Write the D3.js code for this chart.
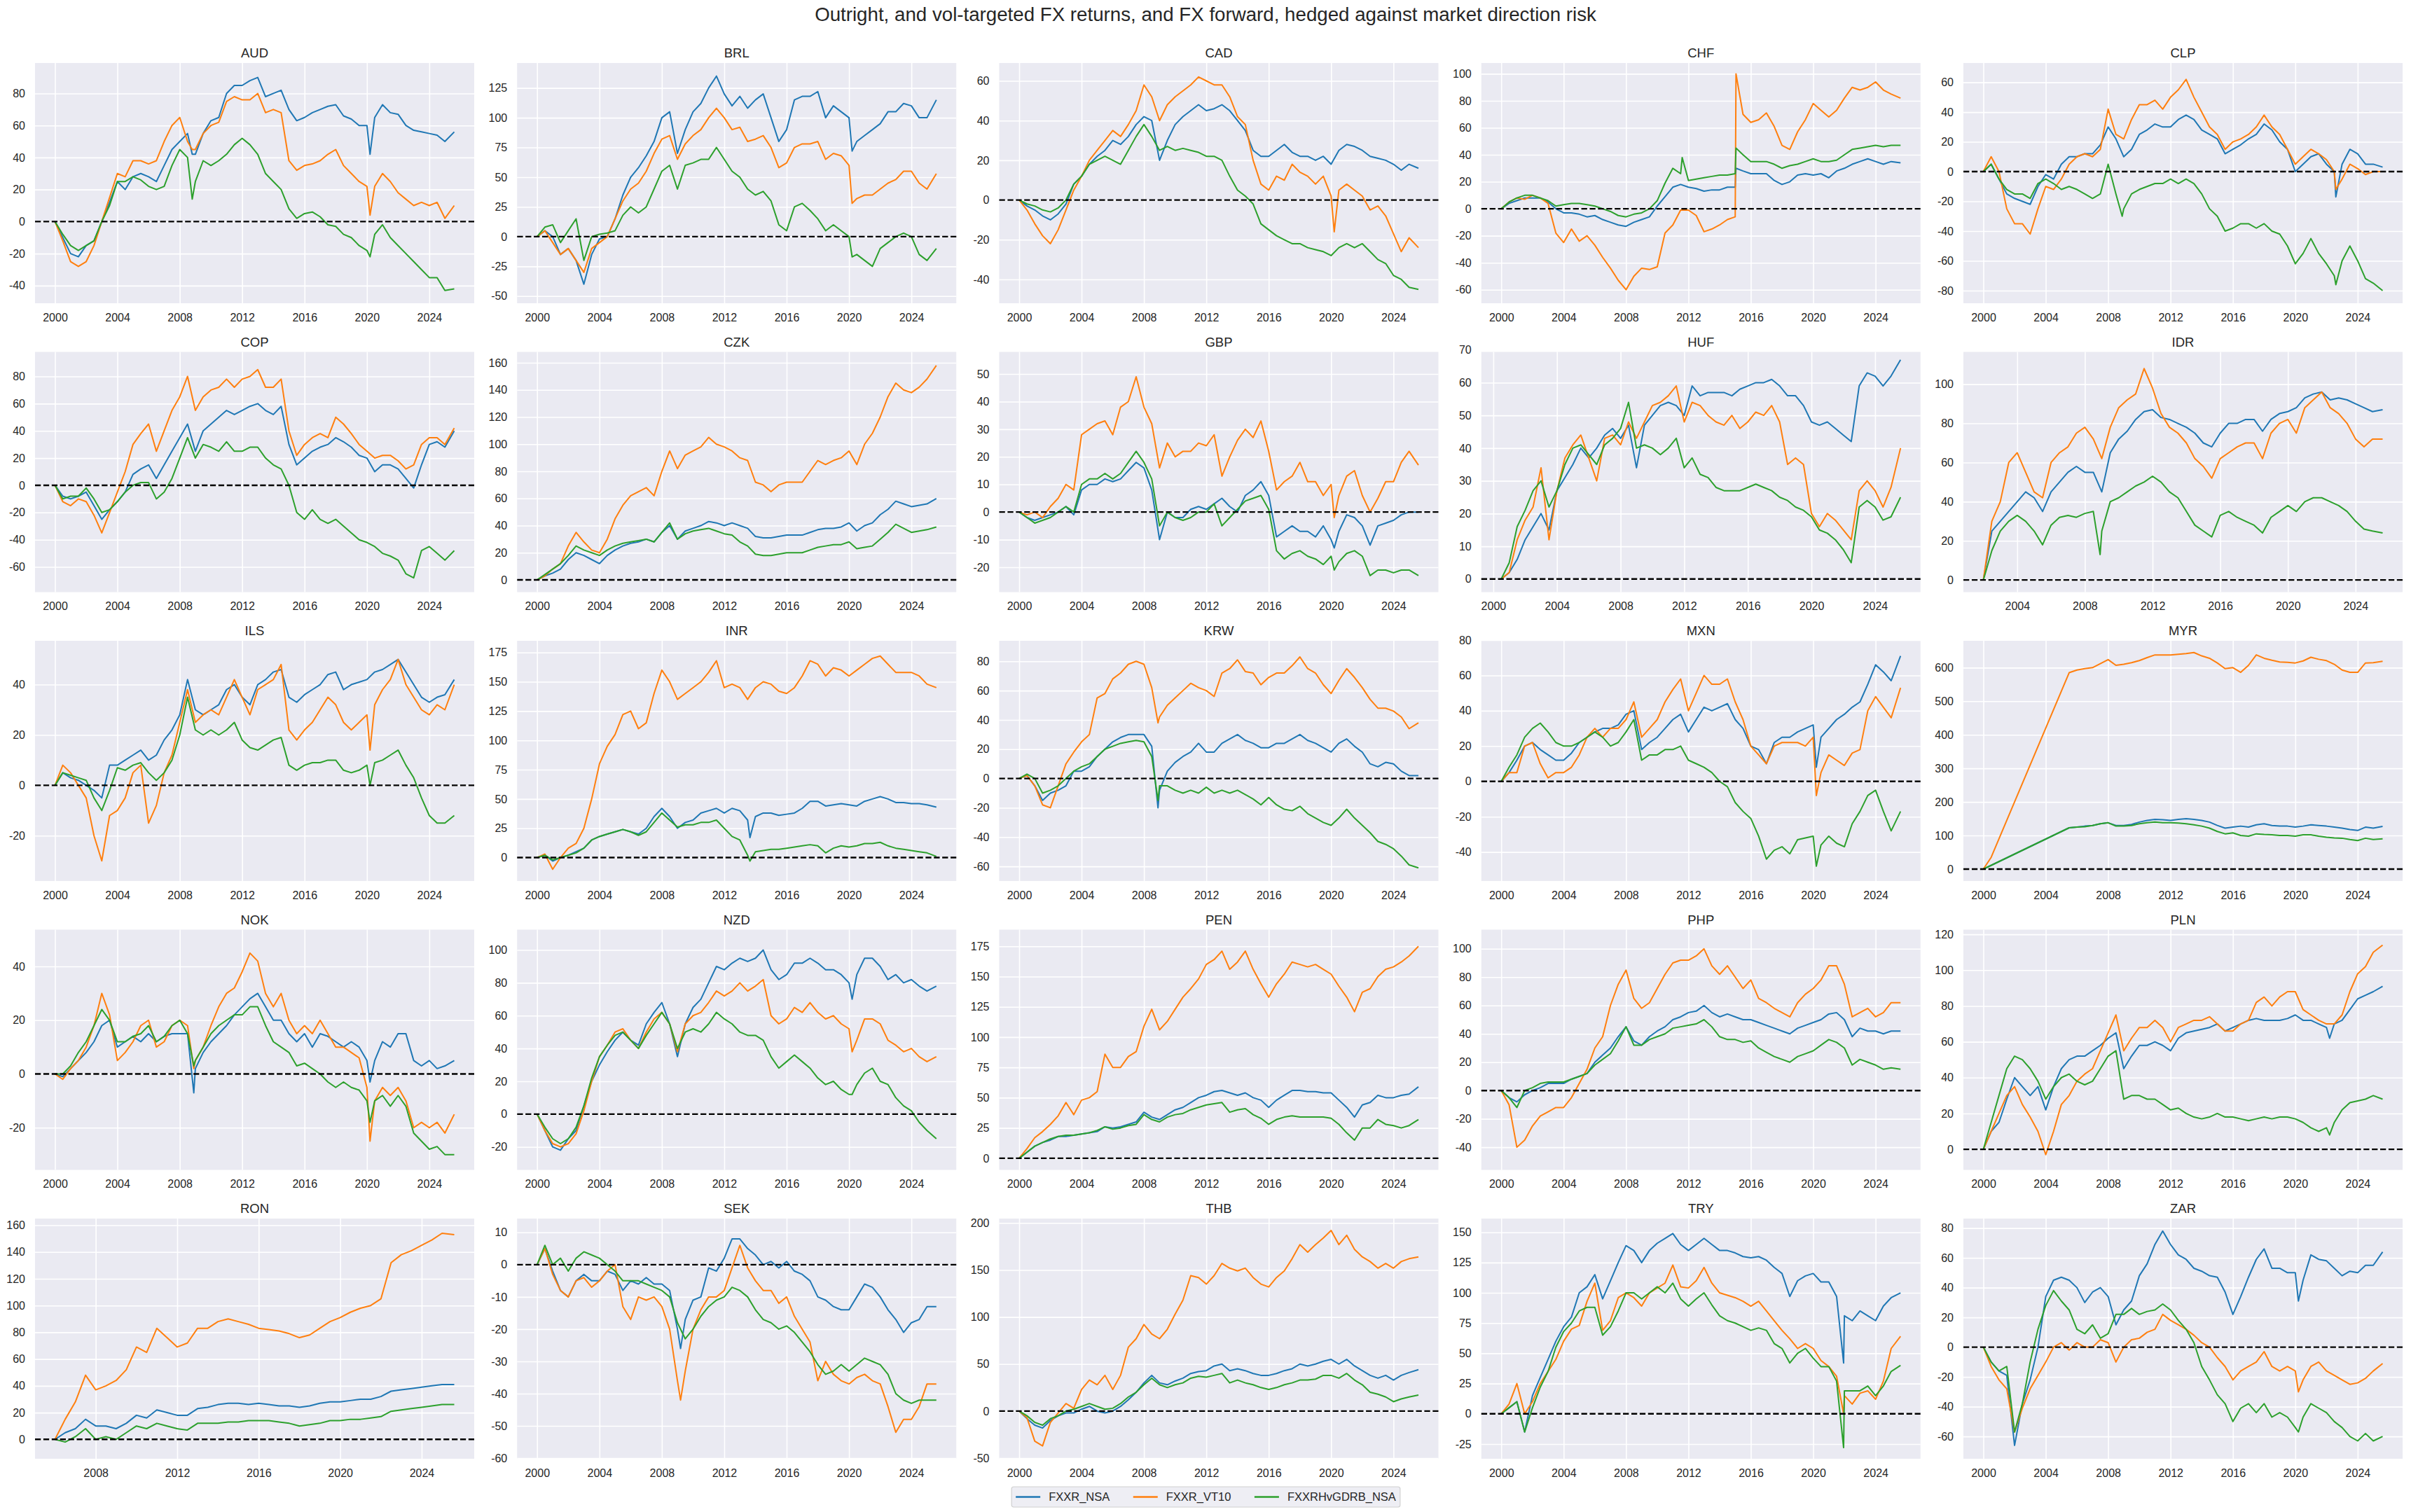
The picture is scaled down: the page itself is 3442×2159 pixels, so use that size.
<!DOCTYPE html>
<html><head><meta charset="utf-8">
<script src="https://cdn.jsdelivr.net/npm/d3@7"></script>
<style>body{margin:0;background:#fff}svg{display:block}</style>
</head><body>
<svg id="chart" width="3442" height="2159"></svg>
<script>
// ---------------- DATA ----------------
const chartTitle = "Outright, and vol-targeted FX returns, and FX forward, hedged against market direction risk";
const currencies = ["AUD","BRL","CAD","CHF","CLP","COP","CZK","GBP","HUF","IDR","ILS","INR","KRW","MXN","MYR","NOK","NZD","PEN","PHP","PLN","RON","SEK","THB","TRY","ZAR"];
const seriesNames = ["FXXR_NSA","FXXR_VT10","FXXRHvGDRB_NSA"];
const xTickValues = [2000,2004,2008,2012,2016,2020,2024];
const dates = [2000,2000.5,2001,2001.5,2002,2002.5,2003,2003.5,2004,2004.5,2005,2005.5,2006,2006.5,2007,2007.5,2008,2008.5,2009,2009.5,2010,2010.5,2011,2011.5,2012,2012.5,2013,2013.5,2014,2014.5,2015,2015.5,2016,2016.5,2017,2017.5,2018,2018.5,2019,2019.5,2020,2020.5,2021,2021.5,2022,2022.5,2023,2023.5,2024,2024.5,2025,2025.6];
const datesCHF = [2000,2000.5,2001,2001.5,2002,2002.5,2003,2003.5,2004,2004.5,2005,2005.5,2006,2006.5,2007,2007.5,2008,2008.5,2009,2009.5,2010,2010.5,2011,2011.5,2012,2012.5,2013,2013.5,2014,2014.5,2015,2015.05,2015.5,2016,2016.5,2017,2017.5,2018,2018.5,2019,2019.5,2020,2020.5,2021,2021.5,2022,2022.5,2023,2023.5,2024,2024.5,2025,2025.6];

const AUD_NSA=[0,-10,-20,-22,-15,-12,0,12,25,20, 28,30,28,25,35,45,50,55,42,55, 63,65,80,85,85,88,90,78,80,82, 70,63,65,68,70,72,73,66,64,60, 60,65,73,68,67,60,57,56,55,54, 50,56];
const AUD_VT10=[0,-12,-25,-28,-25,-15,0,15,30,28, 38,38,36,38,50,60,65,50,45,55, 60,62,75,78,76,76,80,68,70,68, 38,32,35,36,38,42,45,35,30,25, 22,22,30,25,18,14,10,12,10,12, 2,10];
const AUD_HV=[0,-8,-15,-18,-15,-12,0,10,25,25, 28,26,22,20,22,35,45,40,25,38, 35,38,42,48,52,48,42,30,25,20, 8,2,5,6,3,-2,-3,-8,-10,-15, -18,-8,-2,-10,-15,-20,-25,-30,-35,-35, -43,-42];

const BRL_NSA=[0,5,0,-15,-10,-20,-40,-15,-2,0, 15,35,50,58,68,80,100,105,70,90, 105,112,125,135,120,110,118,108,115,120, 100,80,90,115,118,118,122,100,110,105, 100,80,85,90,95,105,105,112,110,100, 100,115];
const BRL_VT10=[0,5,-5,-15,-10,-20,-30,-10,-5,0, 15,30,40,45,55,70,82,85,65,78, 85,90,100,108,100,90,92,80,82,85, 75,58,62,75,78,78,80,65,70,68, 60,32,35,35,40,45,48,55,55,45, 40,53];
const BRL_HV=[0,8,10,-5,5,15,-20,0,2,3, 5,18,25,20,25,40,55,60,40,60, 62,65,65,75,65,55,50,40,35,38, 30,10,5,25,28,22,15,5,10,5, 0,-15,-20,-25,-10,-5,0,3,0,-15, -20,-10];

const CAD_NSA=[0,-3,-5,-8,-10,-7,-2,8,12,18, 22,25,30,28,32,38,42,40,20,30, 38,42,45,48,45,46,48,45,40,35, 25,22,22,25,28,24,22,22,20,22, 18,25,28,27,25,22,21,20,18,15, 18,16];
const CAD_VT10=[0,-5,-12,-18,-22,-15,-5,5,12,20, 25,30,35,32,38,45,58,52,40,48, 52,55,58,62,60,58,58,52,42,38, 20,8,5,12,10,18,14,12,8,12, 2,5,8,5,2,-5,-3,-8,-17,-26, -19,-24];
const CAD_HV=[0,-2,-3,-5,-6,-4,0,8,12,18, 20,22,20,18,25,32,38,32,25,27, 25,26,25,24,22,22,20,12,5,2, -2,-12,-15,-18,-20,-22,-22,-24,-25,-26, -28,-24,-22,-24,-22,-26,-30,-32,-38,-40, -44,-45];

const CHF_NSA=[0,4,6,8,8,8,5,0,-3,-3, -4,-6,-5,-8,-10,-12,-13,-10,-8,-6, 2,9,16,18,16,15,13,14,14,16, 16,30,28,26,26,26,21,18,20,25,26, 25,26,23,28,30,33,35,37,35,33, 35,34];
const CHF_VT10=[0,5,8,7,10,8,4,-18,-25,-15, -24,-20,-27,-36,-44,-53,-60,-50,-44,-45, -43,-18,-12,-1,-1,-5,-17,-15,-12,-8, -6,100,70,64,66,71,61,47,44,57,66, 78,73,68,73,82,90,88,90,94,88, 85,82];
const CHF_HV=[0,5,8,10,10,8,6,2,3,4, 4,3,2,0,-2,-5,-6,-4,-3,0, 6,19,30,26,21,22,23,24,25,25, 26,45,40,35,35,35,33,30,32,33,35, 37,35,35,36,40,44,45,46,47,46, 47,47];

const CLP_NSA=[0,5,-5,-15,-18,-20,-22,-10,-2,-5, 5,10,10,12,12,18,30,22,10,15, 25,28,32,30,30,35,38,35,28,25, 22,12,15,18,22,25,32,28,20,15, 0,5,10,12,5,0,5,15,12,5, 5,3];
const CLP_VT10=[0,10,0,-25,-35,-35,-42,-25,-10,-12, -5,5,10,12,10,15,42,25,22,35, 45,45,48,42,50,55,62,50,40,30, 25,15,20,22,25,30,38,30,25,15, 5,10,15,12,8,0,-5,5,2,-2, 0,0];
const CLP_HV=[0,5,-5,-12,-15,-15,-18,-8,-5,-8, -12,-10,-12,-15,-18,-15,5,-15,-25,-15, -12,-10,-8,-8,-5,-8,-5,-8,-15,-25, -30,-40,-38,-35,-35,-38,-35,-40,-42,-50, -62,-55,-45,-55,-62,-70,-60,-50,-60,-72, -75,-80];

const COP_NSA=[0,-8,-10,-8,-5,-15,-25,-18,-12,-5, 8,12,15,5,15,25,35,45,25,40, 45,50,55,52,55,58,60,55,52,58, 30,15,20,25,28,30,35,32,28,22, 20,10,15,15,12,5,-2,15,30,32, 28,40];
const COP_VT10=[0,-12,-15,-10,-12,-22,-35,-20,-5,10, 30,38,45,25,40,55,65,80,55,65, 70,72,78,72,78,80,85,72,72,78, 40,22,30,35,38,35,50,45,38,30, 25,20,22,22,18,12,15,30,35,35, 30,42];
const COP_HV=[0,-10,-8,-8,-2,-10,-20,-18,-12,-5, 0,2,2,-10,-5,5,20,35,20,30, 28,25,32,25,25,28,28,20,15,12, 0,-20,-25,-18,-25,-28,-25,-30,-35,-40, -42,-45,-50,-52,-55,-65,-68,-48,-45,-50, -55,-48];

const CZK_NSA=[0,3,5,8,15,20,18,15,12,18, 22,25,27,28,30,28,35,40,30,36, 38,40,43,42,40,42,40,38,32,31, 31,32,33,33,33,35,37,38,38,39, 42,36,40,42,48,52,58,56,54,55, 56,60];
const CZK_VT10=[0,3,8,12,25,35,28,22,20,30, 45,55,62,65,68,62,80,95,82,92, 95,98,105,100,98,95,90,88,72,70, 65,70,72,72,72,80,88,85,88,90, 95,85,100,108,120,135,145,140,138,142, 148,158];
const CZK_HV=[0,4,8,12,18,25,22,20,18,22, 25,27,28,29,30,28,35,42,30,34, 36,37,38,36,34,33,28,25,19,18, 18,19,20,20,20,22,24,25,26,26, 28,23,24,25,30,35,41,38,35,36, 37,39];

const GBP_NSA=[0,-2,-3,-2,-1,0,2,-1,8,10, 10,12,11,12,15,18,16,8,-10,0, -2,-2,1,2,1,3,5,2,0,6, 8,11,6,-9,-7,-5,-7,-7,-9,-5, -10,-7,-1,-2,-5,-12,-5,-4,-3,-1, 0,0];
const GBP_VT10=[0,-1,0,-2,2,5,10,8,28,30, 32,33,28,38,40,49,38,32,16,25, 20,22,22,25,24,28,13,20,26,30, 27,33,22,8,11,13,18,11,11,6, 10,6,13,15,6,0,5,11,11,18, 22,17];
const GBP_HV=[0,-2,-4,-3,-2,0,2,0,10,12, 12,14,12,14,18,22,18,12,-5,0, -2,-3,-2,0,0,3,-5,-2,1,4, 5,6,1,-14,-17,-15,-14,-16,-17,-19, -16,-18,-15,-14,-16,-23,-21,-21,-22,-21, -21,-23];

const HUF_NSA=[null,0,2,6,12,16,20,15,27,31, 35,40,37,40,44,46,43,47,34,47, 50,53,54,53,50,59,56,57,57,57, 56,58,59,60,60,61,59,56,56,53, 48,47,48,46,44,42,59,63,62,59, 62,67];
const HUF_VT10=[null,0,2,12,18,22,34,12,27,37, 41,44,37,30,43,44,41,48,43,48, 53,54,56,59,48,54,53,50,48,47, 50,46,48,51,50,53,48,35,37,35, 20,16,20,18,15,12,27,30,27,22, 28,40];
const HUF_HV=[null,0,5,16,21,27,30,22,27,35, 40,41,38,35,41,43,46,54,40,41, 40,38,40,43,34,37,32,31,28,27, 27,27,28,29,28,27,25,24,22,21, 19,15,14,12,9,5,22,24,22,18, 19,25];

const IDR_NSA=[null,null,null,null,0,25,30,35,40,45, 42,35,45,50,55,58,55,55,45,65, 72,76,82,86,87,83,82,80,78,75, 70,68,75,80,80,82,82,76,82,85, 86,88,93,95,96,92,93,92,90,88, 86,87];
const IDR_VT10=[null,null,null,null,0,30,40,60,65,55, 45,42,60,65,68,75,78,72,62,78, 88,92,95,108,98,85,78,75,70,62, 58,52,62,65,68,70,70,62,75,80, 82,75,88,92,96,88,85,80,72,68, 72,72];
const IDR_HV=[null,null,null,null,0,15,25,30,33,30, 25,18,28,32,33,32,34,35,25,40, 42,45,48,50,53,50,45,42,35,28, 25,22,33,35,32,30,28,24,32,35, 38,35,40,42,42,40,38,35,30,26, 25,24];

const ILS_NSA=[0,5,3,2,0,-2,-5,8,8,10, 12,14,10,12,18,22,28,42,30,28, 30,32,38,40,35,32,40,42,45,46, 35,33,36,38,40,44,45,38,40,41, 42,45,46,48,50,45,40,35,33,35, 36,42];
const ILS_VT10=[0,8,5,0,-5,-20,-30,-12,-10,-5, 5,8,-15,-8,5,12,25,38,25,28, 30,28,35,42,35,28,38,40,42,48, 22,18,22,25,30,35,32,25,22,25, 28,32,38,42,50,40,35,30,28,32, 30,40];
const ILS_HV=[0,5,4,3,2,-5,-10,-2,7,6, 8,9,5,2,5,10,20,35,22,20, 22,20,22,25,18,15,14,16,18,19, 8,6,8,9,9,10,10,6,5,6, 8,9,10,12,14,8,3,-5,-12,-15, -15,-12];

const INR_NSA=[0,2,-3,0,2,5,8,15,18,20, 22,24,22,20,25,35,42,35,25,30, 32,38,40,42,38,42,40,32,35,38, 38,36,37,38,42,48,48,44,45,46, 45,44,48,50,52,50,47,47,46,46, 45,43];
const INR_VT10=[0,3,-10,0,8,12,25,50,80,95, 105,122,125,110,115,140,160,150,135,140, 145,150,158,168,145,148,145,135,145,150, 148,142,140,145,155,168,165,155,162,160, 155,160,165,170,172,165,158,158,158,155, 148,145];
const INR_HV=[0,2,-2,0,2,4,8,15,18,20, 22,24,22,19,22,30,38,32,26,28, 28,30,30,32,25,18,15,2,5,6, 7,7,8,9,10,11,10,4,8,10, 9,10,12,12,13,10,8,7,6,5, 4,1];

const KRW_NSA=[0,2,-5,-15,-10,-8,-5,5,5,8, 15,20,25,28,30,30,30,22,-8,5, 11,15,18,24,18,18,24,27,30,26, 24,21,21,24,24,27,30,26,24,21, 18,24,27,22,18,10,8,11,10,5, 2,2];
const KRW_VT10=[0,2,-5,-18,-20,-5,10,18,25,30, 55,58,68,72,78,80,78,62,42,50, 55,60,65,62,60,56,72,75,81,73, 72,64,69,72,72,77,83,75,72,64, 58,67,75,69,62,54,48,48,46,42, 34,38];
const KRW_HV=[0,3,0,-10,-8,-5,0,5,8,10, 15,20,22,24,25,26,25,15,-5,-5, -8,-10,-8,-10,-6,-10,-8,-10,-8,-11, -14,-18,-13,-18,-21,-22,-19,-24,-27,-30, -32,-27,-21,-27,-32,-37,-43,-45,-48,-53, -59,-61];

const MXN_NSA=[0,5,12,20,22,18,15,12,12,16, 22,25,28,30,30,32,38,40,18,22, 25,30,35,38,28,35,42,40,42,44, 35,30,20,18,10,22,25,25,28,30, 32,25,30,35,38,42,45,55,66,62, 57,71];
const MXN_VT10=[0,5,5,20,22,10,2,5,5,8, 15,25,30,25,30,30,35,45,25,30, 35,45,52,58,40,50,60,55,55,58, 45,35,20,15,10,20,22,22,22,20, 25,5,15,12,9,16,18,40,48,42, 36,53];
const MXN_HV=[0,8,15,25,30,33,28,22,20,20, 22,25,28,25,20,22,28,35,12,15, 15,18,18,20,12,10,8,5,0,-3, -12,-17,-21,-31,-44,-39,-37,-41,-33,-32, -31,-36,-31,-35,-37,-24,-17,-8,-5,-17, -28,-17];

const MYR_NSA=[0,null,null,null,null,null,null,null,null,null, null,123,125,128,130,135,138,130,130,133, 140,145,148,147,145,148,150,148,145,140, 130,122,125,128,125,132,135,130,128,128, 125,128,132,130,128,125,122,118,115,125, 122,127];
const MYR_VT10=[0,35,null,null,null,null,null,null,null,null, null,585,593,597,600,612,624,607,610,615, 621,630,638,638,638,640,642,645,635,628, 614,597,600,586,607,638,628,622,617,616, 614,620,631,625,621,610,593,586,586,614, 615,619];
const MYR_HV=[0,null,null,null,null,null,null,null,null,null, null,123,125,126,130,135,138,128,128,130, 135,138,140,138,138,137,135,132,128,122, 112,105,108,100,98,105,103,102,100,100, 98,102,102,98,95,93,92,88,85,92, 88,90];

const NOK_NSA=[0,-1,2,5,8,12,18,20,10,12, 14,12,15,12,14,15,15,15,2,8, 12,15,18,22,25,28,30,25,20,20, 15,12,15,10,15,14,12,10,12,10, 5,5,12,10,15,15,5,3,5,2, 3,5];
const NOK_VT10=[0,-2,2,5,10,18,30,22,5,8, 12,18,20,10,12,18,20,18,5,10, 18,25,30,32,38,45,42,30,25,30, 20,15,18,15,20,15,10,10,8,6, -5,-10,-5,-8,-5,-10,-20,-18,-20,-18, -22,-15];
const NOK_HV=[0,0,3,8,12,18,24,20,12,12, 14,15,18,12,14,18,20,15,5,10, 15,18,20,22,22,25,25,18,12,10, 8,3,4,2,0,-3,-5,-3,-5,-6, -10,-10,-8,-12,-8,-12,-22,-25,-28,-27, -30,-30];

const NZD_NSA=[0,-10,-20,-22,-15,-10,5,20,30,38, 45,50,45,42,55,62,68,55,35,55, 65,70,80,90,88,92,95,93,95,100, 88,82,85,92,92,95,92,88,88,85, 80,85,95,95,90,82,85,80,82,78, 75,78];
const NZD_VT10=[0,-10,-18,-20,-18,-12,2,20,35,42, 50,52,45,40,50,58,62,55,38,55, 60,62,68,75,72,75,80,75,78,82, 60,55,58,65,62,68,62,58,60,55, 52,45,58,58,55,45,42,38,40,35, 32,35];
const NZD_HV=[0,-8,-15,-18,-15,-8,5,22,35,42, 48,50,45,40,48,55,62,55,40,50, 52,50,55,62,58,55,50,48,48,45, 35,28,32,36,32,28,22,18,20,15, 12,18,25,28,20,18,10,5,2,-5, -10,-15];

const PEN_NSA=[0,5,10,13,15,18,18,19,20,21, 22,26,25,26,28,30,38,34,32,36, 40,42,46,50,52,55,56,54,52,54, 50,48,42,48,52,56,56,55,55,54, 54,48,42,34,44,46,52,50,50,52, 53,59];
const PEN_VT10=[0,8,17,22,28,35,46,36,48,50, 55,86,75,75,84,88,109,123,106,113, 123,133,140,148,160,164,171,156,162,171, 156,144,133,144,152,162,160,158,160,156, 152,142,133,121,137,140,150,156,158,162, 167,175];
const PEN_HV=[0,5,10,13,16,18,19,19,20,21, 23,26,24,25,27,28,36,32,30,34, 36,37,40,42,44,45,46,38,40,41, 36,33,28,32,34,35,34,34,34,34, 33,28,21,15,25,25,32,28,27,25, 27,32];

const PHP_NSA=[0,-5,-8,-3,0,2,5,5,5,8, 10,12,20,25,30,38,45,35,32,38, 42,45,50,52,55,56,60,55,52,54, 52,50,50,48,46,44,42,40,44,46, 48,50,54,55,50,38,44,42,42,40, 42,42];
const PHP_VT10=[0,-10,-40,-35,-25,-18,-15,-12,-12,-5, 5,15,30,38,60,75,85,65,58,62, 72,82,90,92,92,95,100,88,82,88, 80,72,78,65,62,58,55,52,62,68, 72,78,88,88,75,52,55,58,52,55, 62,62];
const PHP_HV=[0,-5,-12,0,2,5,6,6,6,8, 10,12,18,22,26,35,45,32,32,36, 38,40,44,45,46,47,50,45,38,36, 36,34,35,30,27,24,22,20,24,26, 28,32,36,34,30,18,22,20,18,15, 16,15];

const PLN_NSA=[0,10,15,28,40,35,30,35,22,35, 45,50,52,52,55,58,62,65,45,52, 58,58,60,58,55,62,65,66,67,68, 70,66,68,70,72,73,72,72,72,73, 75,72,72,70,68,70,72,78,84,86, 88,91];
const PLN_VT10=[0,10,20,30,35,25,18,10,-3,10, 25,30,38,42,45,55,65,75,55,62, 68,68,72,68,60,68,70,72,72,74, 70,66,66,70,72,82,85,80,85,88, 88,78,75,72,70,70,75,88,98,102, 110,114];
const PLN_HV=[0,15,30,45,52,50,45,38,28,35, 40,42,38,36,38,45,52,55,28,30, 30,28,28,25,22,23,20,18,17,18, 20,18,18,17,16,17,18,17,18,18, 17,15,12,10,12,15,22,26,27,28, 30,28];

const RON_NSA=[null,null,null,null,null,null,null,null,null,null, null,null,0,5,8,15,10,10,8,12, 18,16,22,20,18,18,23,24,26,27, 27,26,27,26,25,25,24,25,27,28, 28,29,30,30,32,36,37,38,39,40, 41,41];
const RON_VT10=[null,null,null,null,null,null,null,null,null,null, null,null,0,15,28,48,37,40,44,52, 69,65,83,76,69,72,83,83,88,90, 88,86,83,82,81,79,76,78,83,88, 91,95,98,100,105,132,138,141,145,149, 154,153];
const RON_HV=[null,null,null,null,null,null,null,null,null,null, null,null,0,-2,2,8,0,2,0,5, 10,8,12,10,8,7,12,12,12,13, 13,14,14,14,13,12,10,11,12,14, 14,15,15,16,17,21,22,23,24,25, 26,26];

const SEK_NSA=[0,5,-2,-8,-10,-5,-3,-5,-5,-2, -3,-8,-5,-6,-4,-6,-6,-8,-20,-17, -11,-10,-1,-2,2,8,8,5,3,0, 1,-1,1,-2,-3,-5,-10,-11,-13,-14, -14,-10,-6,-7,-10,-14,-17,-21,-18,-17, -13,-13];
const SEK_VT10=[0,5,-3,-8,-10,-5,-4,-7,-5,-2, 0,-13,-17,-10,-11,-10,-13,-20,-36,-33, -20,-14,-10,-10,-8,-1,6,-1,-5,-8, -8,-12,-10,-16,-20,-24,-36,-30,-34,-36, -37,-35,-34,-36,-37,-44,-52,-48,-48,-44, -37,-37];
const SEK_HV=[0,6,0,2,-2,2,4,3,2,0, -2,-5,-5,-5,-6,-7,-8,-10,-18,-23, -20,-16,-13,-11,-10,-7,-8,-10,-14,-17, -18,-20,-19,-21,-24,-27,-31,-34,-33,-31, -33,-31,-29,-30,-31,-34,-40,-42,-43,-42, -42,-42];

const THB_NSA=[0,-8,-15,-18,-10,-5,-2,-2,2,5, 0,-2,0,5,12,20,30,38,30,28, 32,35,40,42,43,48,50,43,45,43, 40,38,38,40,43,45,50,48,50,53, 55,50,55,48,43,38,35,38,33,38, 41,44];
const THB_VT10=[0,-7,-32,-37,-12,-2,8,3,23,33, 28,38,23,38,68,77,92,82,77,87, 103,118,144,142,135,144,157,152,149,152, 142,135,132,142,149,162,177,169,177,184, 192,177,187,172,164,159,152,157,152,159, 162,164];
const THB_HV=[0,-5,-12,-15,-8,-5,0,2,5,8, 5,2,3,8,15,20,28,35,28,25, 28,30,35,37,36,38,40,30,33,30, 28,25,23,25,28,30,33,33,34,38, 38,35,40,33,28,20,18,15,10,13, 15,17];

const TRY_NSA=[0,5,10,-15,15,30,45,60,72,80, 100,105,115,95,110,125,139,135,125,135, 141,145,149,140,135,140,145,140,135,135, 133,130,129,130,127,121,116,97,110,114, 116,109,109,97,81,77,85,81,77,89, 96,100];
const TRY_VT10=[0,8,25,0,10,25,35,45,60,70, 73,93,108,69,77,96,100,96,89,100, 104,108,123,105,104,110,121,108,100,98, 96,93,89,93,85,77,69,62,54,58, 54,44,39,31,15,8,17,19,12,27, 54,64];
const TRY_HV=[0,5,10,-15,5,22,35,55,68,75, 85,88,88,65,72,85,100,100,95,100, 105,100,108,95,89,95,100,90,81,77, 75,72,69,71,69,58,54,42,50,54, 46,39,39,27,19,19,19,23,15,23, 35,40];

const ZAR_NSA=[0,-10,-16,-19,-66,-38,-22,0,34,45, 47,45,40,30,37,40,34,15,25,31, 48,56,69,78,69,62,59,53,51,48, 47,37,22,34,47,59,66,53,53,50, 50,45,62,59,58,53,48,51,50,55, 55,64];
const ZAR_VT10=[0,-13,-22,-28,-57,-41,-28,-19,-10,0, 3,-2,3,0,0,5,3,-10,0,5, 6,10,12,22,18,15,12,8,3,0, -7,-13,-22,-16,-13,-10,-3,-13,-16,-13, -16,-22,-13,-10,-16,-19,-22,-25,-24,-21, -16,-11];
const ZAR_HV=[0,-10,-16,-13,-57,-38,-10,12,28,38, 31,25,12,9,15,6,9,22,22,26, 22,24,25,29,25,18,12,3,-13,-22, -32,-38,-50,-41,-38,-44,-38,-47,-44,-47, -54,-47,-38,-41,-44,-50,-54,-60,-63,-58, -63,-60];

// short-lived spikes (currency, date, NSA, VT10, HvGDRB)
const spikeCcy  = ["AUD","AUD","BRL","CAD","GBP","ILS","MXN","NOK","NOK","NZD","ZAR","TRY","CLP","CLP","IDR","KRW","CHF","PLN","SEK","INR"];
const spikeDate = [2008.8,2020.2,2020.2,2020.2,2020.2,2020.2,2020.2,2020.2,2008.9,2020.2,2020.2,2021.95,2008.9,2022.6,2008.9,2008.9,2011.6,2022.2,2009.2,2013.65];
const spikeNSA  = [42,42,72,null,-13,null,8,-3,-7,70,31,42,null,-17,null,-20,null,62,-26,17];
const spikeVT10 = [45,4,28,-16,-2,14,-8,-25,2,38,-30,0,null,-12,null,38,null,null,-42,null];
const spikeHV   = [14,-22,-17,null,-21,0,-48,-18,3,12,-57,-28,-30,-76,13,-15,38,8,null,-3];

const yDomains = [[-51,99],[-56,146],[-52,69],[-70,108],[-88.5,73],[-78.5,98],[-9,168],[-29,58],[-4,69.4],[-6.2,116.5],[-38,57.4],[-20,185],[-70,94],[-56.4,79.6],[-35.5,680],[-35.7,53.7],[-34,112.4],[-9.6,188.7],[-56,113.5],[-11.5,122.6],[-14.5,165],[-60.2,14.3],[-50.7,204.7],[-37.2,161.4],[-75,86.4]];
const yTicks = [[-40,-20,0,20,40,60,80],[-50,-25,0,25,50,75,100,125],[-40,-20,0,20,40,60],[-60,-40,-20,0,20,40,60,80,100],[-80,-60,-40,-20,0,20,40,60],[-60,-40,-20,0,20,40,60,80],[0,20,40,60,80,100,120,140,160],[-20,-10,0,10,20,30,40,50],[0,10,20,30,40,50,60,70],[0,20,40,60,80,100],[-20,0,20,40],[0,25,50,75,100,125,150,175],[-60,-40,-20,0,20,40,60,80],[-40,-20,0,20,40,60,80],[0,100,200,300,400,500,600],[-20,0,20,40],[-20,0,20,40,60,80,100],[0,25,50,75,100,125,150,175],[-40,-20,0,20,40,60,80,100],[0,20,40,60,80,100,120],[0,20,40,60,80,100,120,140,160],[-60,-50,-40,-30,-20,-10,0,10],[-50,0,50,100,150,200],[-25,0,25,50,75,100,125,150],[-60,-40,-20,0,20,40,60,80]];

const seriesTable = {
  AUD:[AUD_NSA,AUD_VT10,AUD_HV], BRL:[BRL_NSA,BRL_VT10,BRL_HV], CAD:[CAD_NSA,CAD_VT10,CAD_HV],
  CHF:[CHF_NSA,CHF_VT10,CHF_HV], CLP:[CLP_NSA,CLP_VT10,CLP_HV], COP:[COP_NSA,COP_VT10,COP_HV],
  CZK:[CZK_NSA,CZK_VT10,CZK_HV], GBP:[GBP_NSA,GBP_VT10,GBP_HV], HUF:[HUF_NSA,HUF_VT10,HUF_HV],
  IDR:[IDR_NSA,IDR_VT10,IDR_HV], ILS:[ILS_NSA,ILS_VT10,ILS_HV], INR:[INR_NSA,INR_VT10,INR_HV],
  KRW:[KRW_NSA,KRW_VT10,KRW_HV], MXN:[MXN_NSA,MXN_VT10,MXN_HV], MYR:[MYR_NSA,MYR_VT10,MYR_HV],
  NOK:[NOK_NSA,NOK_VT10,NOK_HV], NZD:[NZD_NSA,NZD_VT10,NZD_HV], PEN:[PEN_NSA,PEN_VT10,PEN_HV],
  PHP:[PHP_NSA,PHP_VT10,PHP_HV], PLN:[PLN_NSA,PLN_VT10,PLN_HV], RON:[RON_NSA,RON_VT10,RON_HV],
  SEK:[SEK_NSA,SEK_VT10,SEK_HV], THB:[THB_NSA,THB_VT10,THB_HV], TRY:[TRY_NSA,TRY_VT10,TRY_HV],
  ZAR:[ZAR_NSA,ZAR_VT10,ZAR_HV]
};
const spikeCols = [spikeNSA, spikeVT10, spikeHV];

// ---------------- DRAWING ----------------
const W = 3442, H = 2159;
const FONT = "'Liberation Sans', Arial, sans-serif";
const TEXT = "#262626";
const colors = ["#1f77b4","#ff7f0e","#2ca02c"];
const plotW = 627, plotH = 343;
const colLeft = c => 50 + c * 688.25;
const rowTop = r => 90 + r * 412.5;

const svg = d3.select("#chart");
svg.append("rect").attr("width", W).attr("height", H).attr("fill", "#fff");

svg.append("text").attr("x", 1721).attr("y", 30).attr("text-anchor", "middle")
  .attr("font-family", FONT).attr("font-size", 27.7).attr("fill", TEXT).text(chartTitle);

currencies.forEach((ccy, i) => {
  const col = i % 5, row = Math.floor(i / 5);
  const g = svg.append("g").attr("transform", `translate(${colLeft(col)},${rowTop(row)})`);
  const ds = ccy === "CHF" ? datesCHF : dates;
  const ser = seriesTable[ccy];
  const pts = ser.map((s, si) => {
    const p = ds.map((d, k) => [d, s[k]]).filter(q => q[1] !== null && q[1] !== undefined);
    spikeCcy.forEach((c, k) => {
      if (c === ccy && spikeCols[si][k] !== null) p.push([spikeDate[k], spikeCols[si][k]]);
    });
    return p.sort((a, b) => a[0] - b[0]);
  });
  const allX = pts.flat().map(p => p[0]);
  const xmin = d3.min(allX), xmax = d3.max(allX), pad = (xmax - xmin) * 0.05;
  const x = d3.scaleLinear().domain([xmin - pad, xmax + pad]).range([0, plotW]);
  const y = d3.scaleLinear().domain(yDomains[i]).range([plotH, 0]);

  g.append("rect").attr("width", plotW).attr("height", plotH).attr("fill", "#EAEAF2");

  const xt = xTickValues.filter(t => t >= x.domain()[0] && t <= x.domain()[1]);
  const xAxis = g.append("g").attr("transform", `translate(0,${plotH})`)
    .call(d3.axisBottom(x).tickValues(xt).tickSize(-plotH).tickPadding(14.6).tickFormat(d => String(d)));
  const yAxis = g.append("g")
    .call(d3.axisLeft(y).tickValues(yTicks[i]).tickSize(-plotW).tickPadding(14).tickFormat(d => String(d)));
  [xAxis, yAxis].forEach(a => {
    a.select(".domain").remove();
    a.selectAll(".tick line").attr("stroke", "#ffffff").attr("stroke-width", 1.6);
    a.selectAll(".tick text").attr("font-family", FONT).attr("font-size", 16).attr("fill", TEXT);
    a.attr("font-family", FONT);
  });

  const line = d3.line().x(p => x(p[0])).y(p => y(p[1]));
  pts.forEach((p, s) => {
    g.append("path").datum(p).attr("d", line).attr("fill", "none")
      .attr("stroke", colors[s]).attr("stroke-width", 2).attr("stroke-linejoin", "round");
  });

  g.append("line").attr("x1", 0).attr("x2", plotW).attr("y1", y(0)).attr("y2", y(0))
    .attr("stroke", "#000").attr("stroke-width", 2.4).attr("stroke-dasharray", "8.3,3.6");

  g.append("text").attr("x", plotW / 2).attr("y", -8).attr("text-anchor", "middle")
    .attr("font-family", FONT).attr("font-size", 18.5).attr("fill", TEXT).text(ccy);
});

// Legend
const lg = svg.append("g");
const lgFont = 16.5, handle = 35, hpad = 12, colSp = 33.5;
const box = lg.append("rect");
let cx = 0;
seriesNames.forEach((n, k) => {
  const it = lg.append("g").attr("transform", `translate(${cx},0)`);
  it.append("line").attr("x1", 0).attr("x2", handle).attr("y1", 0).attr("y2", 0)
    .attr("stroke", colors[k]).attr("stroke-width", 2.4);
  const t = it.append("text").attr("x", handle + hpad).attr("y", 0).attr("dy", "0.35em")
    .attr("font-family", FONT).attr("font-size", lgFont).attr("fill", TEXT).text(n);
  cx += handle + hpad + t.node().getComputedTextLength() + colSp;
});
const totalW = cx - colSp;
const padX = 6, boxW = totalW + 2 * padX, boxH = 29;
const lx = 1721.5 - boxW / 2, ly = 2137.5;
lg.attr("transform", `translate(${lx + padX},${ly})`);
box.attr("x", -padX).attr("y", -boxH / 2).attr("width", boxW).attr("height", boxH)
  .attr("rx", 3).attr("fill", "#EEEEF4").attr("stroke", "#d0d0d0").attr("stroke-width", 1.2);
</script>
</body></html>
